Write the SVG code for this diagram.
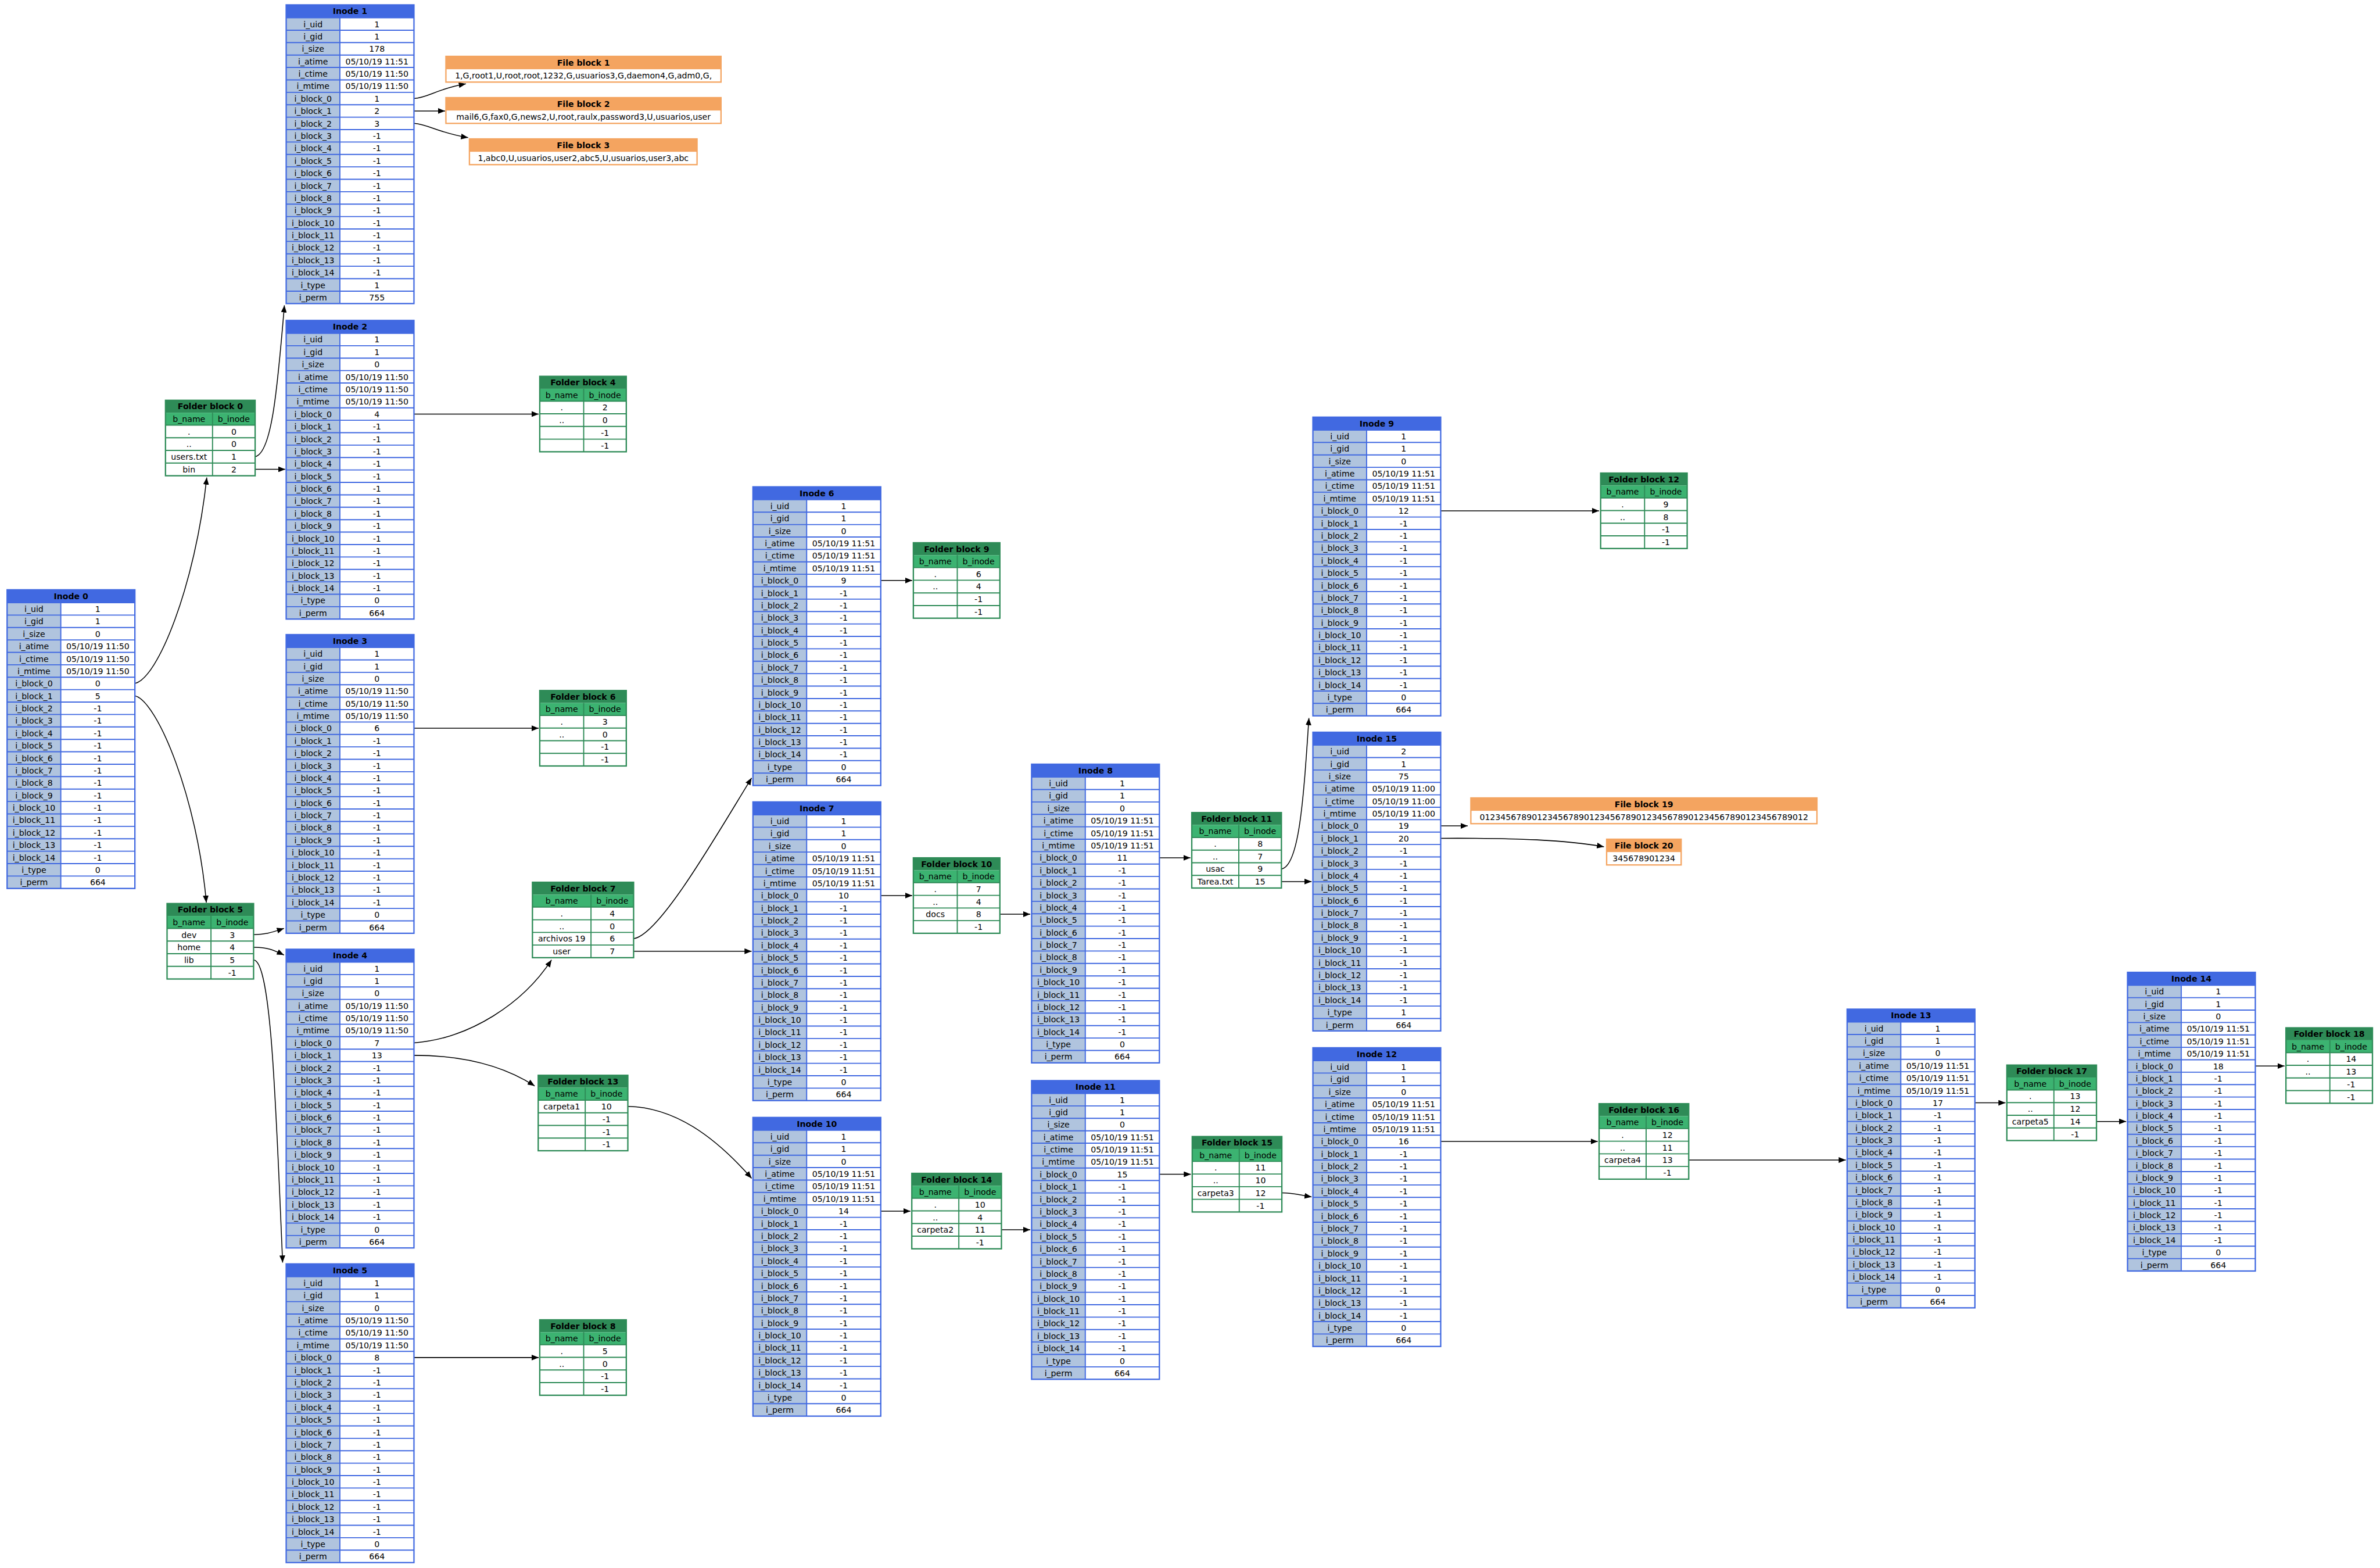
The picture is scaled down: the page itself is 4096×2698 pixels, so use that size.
<svg xmlns="http://www.w3.org/2000/svg" width="4096" height="2698" viewBox="0 0 4096 2698">
<style>
.t{font-family:"DejaVu Sans",sans-serif;font-size:18.5px;text-anchor:middle;fill:#000}
.h{font-family:"DejaVu Sans",sans-serif;font-size:18.5px;font-weight:bold;text-anchor:middle;fill:#000}
.e{fill:none;stroke:#000;stroke-width:2;marker-end:url(#ah)}
.ig{stroke:#4169E1;stroke-width:2.5;fill:none}
.io{stroke:#4169E1;stroke-width:3;fill:none}
.fg{stroke:#2E8B57;stroke-width:2.5;fill:none}
.fo{stroke:#2E8B57;stroke-width:3;fill:none}
.bo{stroke:#F4A460;stroke-width:3;fill:none}
</style>
<defs>
<marker id="ah" markerUnits="userSpaceOnUse" markerWidth="16" markerHeight="13" refX="16" refY="6.5" orient="auto"><path d="M0,0L16,6.5L0,13z" fill="#000"/></marker>
<g id="ifr">
<rect width="288" height="673" fill="#fff"/>
<rect y="29" width="121" height="644" fill="#B0C4DE"/>
<rect width="288" height="29" fill="#4169E1"/>
<path class="ig" d="M0,29H288M0,57H288M0,85H288M0,113H288M0,141H288M0,169H288M0,197H288M0,225H288M0,253H288M0,281H288M0,309H288M0,337H288M0,365H288M0,393H288M0,421H288M0,449H288M0,477H288M0,505H288M0,533H288M0,561H288M0,589H288M0,617H288M0,645H288M121,29V673"/>
<rect class="io" width="288" height="673"/>
</g>
<g id="fA">
<rect width="195" height="170" fill="#fff"/>
<rect width="195" height="28" fill="#2E8B57"/>
<rect y="28" width="195" height="28" fill="#3CB371"/>
<path class="fg" d="M0,56H195M0,84.5H195M0,113H195M0,141.5H195M99,28V170"/>
<rect class="fo" width="195" height="170"/>
</g>
<g id="fB">
<rect width="202" height="170" fill="#fff"/>
<rect width="202" height="28" fill="#2E8B57"/>
<rect y="28" width="202" height="28" fill="#3CB371"/>
<path class="fg" d="M0,56H202M0,84.5H202M0,113H202M0,141.5H202M106,28V170"/>
<rect class="fo" width="202" height="170"/>
</g>
<g id="fC">
<rect width="228" height="170" fill="#fff"/>
<rect width="228" height="28" fill="#2E8B57"/>
<rect y="28" width="228" height="28" fill="#3CB371"/>
<path class="fg" d="M0,56H228M0,84.5H228M0,113H228M0,141.5H228M132,28V170"/>
<rect class="fo" width="228" height="170"/>
</g>
</defs>
<rect width="4096" height="2698" fill="#fff"/>
<g transform="scale(0.76361)">

<g id="connectors">
<path class="e" d="M304,1540 C355,1530 440,1320 466,1076"/>
<path class="e" d="M304,1568 C355,1580 445,1800 465,2034"/>
<path class="e" d="M575,1029 C612,1022 625,880 641,688"/>
<path class="e" d="M575,1057.5 L643,1057.5"/>
<path class="e" d="M933,222 C965,220 985,200 1050,189"/>
<path class="e" d="M933,250 L1003,250"/>
<path class="e" d="M933,278 C965,280 990,300 1055,310"/>
<path class="e" d="M933,933 L1214,933"/>
<path class="e" d="M933,1641 L1214,1641"/>
<path class="e" d="M571.5,2106 C600,2106 615,2100 640,2092"/>
<path class="e" d="M571.5,2134.5 C600,2134 615,2140 640,2152"/>
<path class="e" d="M571.5,2163 C612,2165 622,2500 637,2845"/>
<path class="e" d="M933,2350 C1060,2340 1180,2260 1243,2163"/>
<path class="e" d="M933,2378 C1050,2378 1140,2405 1205,2447"/>
<path class="e" d="M933,3059 L1214,3059"/>
<path class="e" d="M1428,2115 C1485,2108 1610,1890 1694,1753"/>
<path class="e" d="M1428,2143.5 L1694,2143.5"/>
<path class="e" d="M1415,2493 C1520,2495 1610,2560 1694,2655"/>
<path class="e" d="M1985,1308 L2056,1308"/>
<path class="e" d="M1985,2018 L2056,2018"/>
<path class="e" d="M1985,2729 L2052,2729"/>
<path class="e" d="M2253.5,2060 L2322,2060"/>
<path class="e" d="M2257,2771 L2322,2771"/>
<path class="e" d="M2613,1933 L2683,1933"/>
<path class="e" d="M2613,2646 L2684,2646"/>
<path class="e" d="M2888,1958 C2928,1952 2938,1800 2950,1618"/>
<path class="e" d="M2888,1986.5 L2956,1986.5"/>
<path class="e" d="M2889,2688 C2915,2688 2930,2693 2956,2697"/>
<path class="e" d="M3247,1151 L3604,1151"/>
<path class="e" d="M3247,1861 L3308,1861"/>
<path class="e" d="M3247,1889 C3420,1888 3530,1893 3615,1908"/>
<path class="e" d="M3247,2572 L3601,2572"/>
<path class="e" d="M3806,2614 L4160,2614"/>
<path class="e" d="M4451,2485 L4520,2485"/>
<path class="e" d="M4725,2527 L4792,2527"/>
<path class="e" d="M5083,2402 L5149,2402"/>
</g>

<g id="inode0" transform="translate(16,1329)"><use href="#ifr"/><text class="h" x="144" y="21">Inode 0</text>
<text class="t"><tspan x="60.5" y="50">i_uid</tspan><tspan x="60.5" dy="28">i_gid</tspan><tspan x="60.5" dy="28">i_size</tspan><tspan x="60.5" dy="28">i_atime</tspan><tspan x="60.5" dy="28">i_ctime</tspan><tspan x="60.5" dy="28">i_mtime</tspan><tspan x="60.5" dy="28">i_block_0</tspan><tspan x="60.5" dy="28">i_block_1</tspan><tspan x="60.5" dy="28">i_block_2</tspan><tspan x="60.5" dy="28">i_block_3</tspan><tspan x="60.5" dy="28">i_block_4</tspan><tspan x="60.5" dy="28">i_block_5</tspan><tspan x="60.5" dy="28">i_block_6</tspan><tspan x="60.5" dy="28">i_block_7</tspan><tspan x="60.5" dy="28">i_block_8</tspan><tspan x="60.5" dy="28">i_block_9</tspan><tspan x="60.5" dy="28">i_block_10</tspan><tspan x="60.5" dy="28">i_block_11</tspan><tspan x="60.5" dy="28">i_block_12</tspan><tspan x="60.5" dy="28">i_block_13</tspan><tspan x="60.5" dy="28">i_block_14</tspan><tspan x="60.5" dy="28">i_type</tspan><tspan x="60.5" dy="28">i_perm</tspan></text>
<text class="t"><tspan x="204.5" y="50">1</tspan><tspan x="204.5" dy="28">1</tspan><tspan x="204.5" dy="28">0</tspan><tspan x="204.5" dy="28">05/10/19 11:50</tspan><tspan x="204.5" dy="28">05/10/19 11:50</tspan><tspan x="204.5" dy="28">05/10/19 11:50</tspan><tspan x="204.5" dy="28">0</tspan><tspan x="204.5" dy="28">5</tspan><tspan x="204.5" dy="28">-1</tspan><tspan x="204.5" dy="28">-1</tspan><tspan x="204.5" dy="28">-1</tspan><tspan x="204.5" dy="28">-1</tspan><tspan x="204.5" dy="28">-1</tspan><tspan x="204.5" dy="28">-1</tspan><tspan x="204.5" dy="28">-1</tspan><tspan x="204.5" dy="28">-1</tspan><tspan x="204.5" dy="28">-1</tspan><tspan x="204.5" dy="28">-1</tspan><tspan x="204.5" dy="28">-1</tspan><tspan x="204.5" dy="28">-1</tspan><tspan x="204.5" dy="28">-1</tspan><tspan x="204.5" dy="28">0</tspan><tspan x="204.5" dy="28">664</tspan></text></g>

<g id="inode1" transform="translate(645,11)"><use href="#ifr"/><text class="h" x="144" y="21">Inode 1</text>
<text class="t"><tspan x="60.5" y="50">i_uid</tspan><tspan x="60.5" dy="28">i_gid</tspan><tspan x="60.5" dy="28">i_size</tspan><tspan x="60.5" dy="28">i_atime</tspan><tspan x="60.5" dy="28">i_ctime</tspan><tspan x="60.5" dy="28">i_mtime</tspan><tspan x="60.5" dy="28">i_block_0</tspan><tspan x="60.5" dy="28">i_block_1</tspan><tspan x="60.5" dy="28">i_block_2</tspan><tspan x="60.5" dy="28">i_block_3</tspan><tspan x="60.5" dy="28">i_block_4</tspan><tspan x="60.5" dy="28">i_block_5</tspan><tspan x="60.5" dy="28">i_block_6</tspan><tspan x="60.5" dy="28">i_block_7</tspan><tspan x="60.5" dy="28">i_block_8</tspan><tspan x="60.5" dy="28">i_block_9</tspan><tspan x="60.5" dy="28">i_block_10</tspan><tspan x="60.5" dy="28">i_block_11</tspan><tspan x="60.5" dy="28">i_block_12</tspan><tspan x="60.5" dy="28">i_block_13</tspan><tspan x="60.5" dy="28">i_block_14</tspan><tspan x="60.5" dy="28">i_type</tspan><tspan x="60.5" dy="28">i_perm</tspan></text>
<text class="t"><tspan x="204.5" y="50">1</tspan><tspan x="204.5" dy="28">1</tspan><tspan x="204.5" dy="28">178</tspan><tspan x="204.5" dy="28">05/10/19 11:51</tspan><tspan x="204.5" dy="28">05/10/19 11:50</tspan><tspan x="204.5" dy="28">05/10/19 11:50</tspan><tspan x="204.5" dy="28">1</tspan><tspan x="204.5" dy="28">2</tspan><tspan x="204.5" dy="28">3</tspan><tspan x="204.5" dy="28">-1</tspan><tspan x="204.5" dy="28">-1</tspan><tspan x="204.5" dy="28">-1</tspan><tspan x="204.5" dy="28">-1</tspan><tspan x="204.5" dy="28">-1</tspan><tspan x="204.5" dy="28">-1</tspan><tspan x="204.5" dy="28">-1</tspan><tspan x="204.5" dy="28">-1</tspan><tspan x="204.5" dy="28">-1</tspan><tspan x="204.5" dy="28">-1</tspan><tspan x="204.5" dy="28">-1</tspan><tspan x="204.5" dy="28">-1</tspan><tspan x="204.5" dy="28">1</tspan><tspan x="204.5" dy="28">755</tspan></text></g>

<g id="inode2" transform="translate(645,722)"><use href="#ifr"/><text class="h" x="144" y="21">Inode 2</text>
<text class="t"><tspan x="60.5" y="50">i_uid</tspan><tspan x="60.5" dy="28">i_gid</tspan><tspan x="60.5" dy="28">i_size</tspan><tspan x="60.5" dy="28">i_atime</tspan><tspan x="60.5" dy="28">i_ctime</tspan><tspan x="60.5" dy="28">i_mtime</tspan><tspan x="60.5" dy="28">i_block_0</tspan><tspan x="60.5" dy="28">i_block_1</tspan><tspan x="60.5" dy="28">i_block_2</tspan><tspan x="60.5" dy="28">i_block_3</tspan><tspan x="60.5" dy="28">i_block_4</tspan><tspan x="60.5" dy="28">i_block_5</tspan><tspan x="60.5" dy="28">i_block_6</tspan><tspan x="60.5" dy="28">i_block_7</tspan><tspan x="60.5" dy="28">i_block_8</tspan><tspan x="60.5" dy="28">i_block_9</tspan><tspan x="60.5" dy="28">i_block_10</tspan><tspan x="60.5" dy="28">i_block_11</tspan><tspan x="60.5" dy="28">i_block_12</tspan><tspan x="60.5" dy="28">i_block_13</tspan><tspan x="60.5" dy="28">i_block_14</tspan><tspan x="60.5" dy="28">i_type</tspan><tspan x="60.5" dy="28">i_perm</tspan></text>
<text class="t"><tspan x="204.5" y="50">1</tspan><tspan x="204.5" dy="28">1</tspan><tspan x="204.5" dy="28">0</tspan><tspan x="204.5" dy="28">05/10/19 11:50</tspan><tspan x="204.5" dy="28">05/10/19 11:50</tspan><tspan x="204.5" dy="28">05/10/19 11:50</tspan><tspan x="204.5" dy="28">4</tspan><tspan x="204.5" dy="28">-1</tspan><tspan x="204.5" dy="28">-1</tspan><tspan x="204.5" dy="28">-1</tspan><tspan x="204.5" dy="28">-1</tspan><tspan x="204.5" dy="28">-1</tspan><tspan x="204.5" dy="28">-1</tspan><tspan x="204.5" dy="28">-1</tspan><tspan x="204.5" dy="28">-1</tspan><tspan x="204.5" dy="28">-1</tspan><tspan x="204.5" dy="28">-1</tspan><tspan x="204.5" dy="28">-1</tspan><tspan x="204.5" dy="28">-1</tspan><tspan x="204.5" dy="28">-1</tspan><tspan x="204.5" dy="28">-1</tspan><tspan x="204.5" dy="28">0</tspan><tspan x="204.5" dy="28">664</tspan></text></g>

<g id="inode3" transform="translate(645,1430)"><use href="#ifr"/><text class="h" x="144" y="21">Inode 3</text>
<text class="t"><tspan x="60.5" y="50">i_uid</tspan><tspan x="60.5" dy="28">i_gid</tspan><tspan x="60.5" dy="28">i_size</tspan><tspan x="60.5" dy="28">i_atime</tspan><tspan x="60.5" dy="28">i_ctime</tspan><tspan x="60.5" dy="28">i_mtime</tspan><tspan x="60.5" dy="28">i_block_0</tspan><tspan x="60.5" dy="28">i_block_1</tspan><tspan x="60.5" dy="28">i_block_2</tspan><tspan x="60.5" dy="28">i_block_3</tspan><tspan x="60.5" dy="28">i_block_4</tspan><tspan x="60.5" dy="28">i_block_5</tspan><tspan x="60.5" dy="28">i_block_6</tspan><tspan x="60.5" dy="28">i_block_7</tspan><tspan x="60.5" dy="28">i_block_8</tspan><tspan x="60.5" dy="28">i_block_9</tspan><tspan x="60.5" dy="28">i_block_10</tspan><tspan x="60.5" dy="28">i_block_11</tspan><tspan x="60.5" dy="28">i_block_12</tspan><tspan x="60.5" dy="28">i_block_13</tspan><tspan x="60.5" dy="28">i_block_14</tspan><tspan x="60.5" dy="28">i_type</tspan><tspan x="60.5" dy="28">i_perm</tspan></text>
<text class="t"><tspan x="204.5" y="50">1</tspan><tspan x="204.5" dy="28">1</tspan><tspan x="204.5" dy="28">0</tspan><tspan x="204.5" dy="28">05/10/19 11:50</tspan><tspan x="204.5" dy="28">05/10/19 11:50</tspan><tspan x="204.5" dy="28">05/10/19 11:50</tspan><tspan x="204.5" dy="28">6</tspan><tspan x="204.5" dy="28">-1</tspan><tspan x="204.5" dy="28">-1</tspan><tspan x="204.5" dy="28">-1</tspan><tspan x="204.5" dy="28">-1</tspan><tspan x="204.5" dy="28">-1</tspan><tspan x="204.5" dy="28">-1</tspan><tspan x="204.5" dy="28">-1</tspan><tspan x="204.5" dy="28">-1</tspan><tspan x="204.5" dy="28">-1</tspan><tspan x="204.5" dy="28">-1</tspan><tspan x="204.5" dy="28">-1</tspan><tspan x="204.5" dy="28">-1</tspan><tspan x="204.5" dy="28">-1</tspan><tspan x="204.5" dy="28">-1</tspan><tspan x="204.5" dy="28">0</tspan><tspan x="204.5" dy="28">664</tspan></text></g>

<g id="inode4" transform="translate(645,2139)"><use href="#ifr"/><text class="h" x="144" y="21">Inode 4</text>
<text class="t"><tspan x="60.5" y="50">i_uid</tspan><tspan x="60.5" dy="28">i_gid</tspan><tspan x="60.5" dy="28">i_size</tspan><tspan x="60.5" dy="28">i_atime</tspan><tspan x="60.5" dy="28">i_ctime</tspan><tspan x="60.5" dy="28">i_mtime</tspan><tspan x="60.5" dy="28">i_block_0</tspan><tspan x="60.5" dy="28">i_block_1</tspan><tspan x="60.5" dy="28">i_block_2</tspan><tspan x="60.5" dy="28">i_block_3</tspan><tspan x="60.5" dy="28">i_block_4</tspan><tspan x="60.5" dy="28">i_block_5</tspan><tspan x="60.5" dy="28">i_block_6</tspan><tspan x="60.5" dy="28">i_block_7</tspan><tspan x="60.5" dy="28">i_block_8</tspan><tspan x="60.5" dy="28">i_block_9</tspan><tspan x="60.5" dy="28">i_block_10</tspan><tspan x="60.5" dy="28">i_block_11</tspan><tspan x="60.5" dy="28">i_block_12</tspan><tspan x="60.5" dy="28">i_block_13</tspan><tspan x="60.5" dy="28">i_block_14</tspan><tspan x="60.5" dy="28">i_type</tspan><tspan x="60.5" dy="28">i_perm</tspan></text>
<text class="t"><tspan x="204.5" y="50">1</tspan><tspan x="204.5" dy="28">1</tspan><tspan x="204.5" dy="28">0</tspan><tspan x="204.5" dy="28">05/10/19 11:50</tspan><tspan x="204.5" dy="28">05/10/19 11:50</tspan><tspan x="204.5" dy="28">05/10/19 11:50</tspan><tspan x="204.5" dy="28">7</tspan><tspan x="204.5" dy="28">13</tspan><tspan x="204.5" dy="28">-1</tspan><tspan x="204.5" dy="28">-1</tspan><tspan x="204.5" dy="28">-1</tspan><tspan x="204.5" dy="28">-1</tspan><tspan x="204.5" dy="28">-1</tspan><tspan x="204.5" dy="28">-1</tspan><tspan x="204.5" dy="28">-1</tspan><tspan x="204.5" dy="28">-1</tspan><tspan x="204.5" dy="28">-1</tspan><tspan x="204.5" dy="28">-1</tspan><tspan x="204.5" dy="28">-1</tspan><tspan x="204.5" dy="28">-1</tspan><tspan x="204.5" dy="28">-1</tspan><tspan x="204.5" dy="28">0</tspan><tspan x="204.5" dy="28">664</tspan></text></g>

<g id="inode5" transform="translate(645,2848)"><use href="#ifr"/><text class="h" x="144" y="21">Inode 5</text>
<text class="t"><tspan x="60.5" y="50">i_uid</tspan><tspan x="60.5" dy="28">i_gid</tspan><tspan x="60.5" dy="28">i_size</tspan><tspan x="60.5" dy="28">i_atime</tspan><tspan x="60.5" dy="28">i_ctime</tspan><tspan x="60.5" dy="28">i_mtime</tspan><tspan x="60.5" dy="28">i_block_0</tspan><tspan x="60.5" dy="28">i_block_1</tspan><tspan x="60.5" dy="28">i_block_2</tspan><tspan x="60.5" dy="28">i_block_3</tspan><tspan x="60.5" dy="28">i_block_4</tspan><tspan x="60.5" dy="28">i_block_5</tspan><tspan x="60.5" dy="28">i_block_6</tspan><tspan x="60.5" dy="28">i_block_7</tspan><tspan x="60.5" dy="28">i_block_8</tspan><tspan x="60.5" dy="28">i_block_9</tspan><tspan x="60.5" dy="28">i_block_10</tspan><tspan x="60.5" dy="28">i_block_11</tspan><tspan x="60.5" dy="28">i_block_12</tspan><tspan x="60.5" dy="28">i_block_13</tspan><tspan x="60.5" dy="28">i_block_14</tspan><tspan x="60.5" dy="28">i_type</tspan><tspan x="60.5" dy="28">i_perm</tspan></text>
<text class="t"><tspan x="204.5" y="50">1</tspan><tspan x="204.5" dy="28">1</tspan><tspan x="204.5" dy="28">0</tspan><tspan x="204.5" dy="28">05/10/19 11:50</tspan><tspan x="204.5" dy="28">05/10/19 11:50</tspan><tspan x="204.5" dy="28">05/10/19 11:50</tspan><tspan x="204.5" dy="28">8</tspan><tspan x="204.5" dy="28">-1</tspan><tspan x="204.5" dy="28">-1</tspan><tspan x="204.5" dy="28">-1</tspan><tspan x="204.5" dy="28">-1</tspan><tspan x="204.5" dy="28">-1</tspan><tspan x="204.5" dy="28">-1</tspan><tspan x="204.5" dy="28">-1</tspan><tspan x="204.5" dy="28">-1</tspan><tspan x="204.5" dy="28">-1</tspan><tspan x="204.5" dy="28">-1</tspan><tspan x="204.5" dy="28">-1</tspan><tspan x="204.5" dy="28">-1</tspan><tspan x="204.5" dy="28">-1</tspan><tspan x="204.5" dy="28">-1</tspan><tspan x="204.5" dy="28">0</tspan><tspan x="204.5" dy="28">664</tspan></text></g>

<g id="inode6" transform="translate(1697,1097)"><use href="#ifr"/><text class="h" x="144" y="21">Inode 6</text>
<text class="t"><tspan x="60.5" y="50">i_uid</tspan><tspan x="60.5" dy="28">i_gid</tspan><tspan x="60.5" dy="28">i_size</tspan><tspan x="60.5" dy="28">i_atime</tspan><tspan x="60.5" dy="28">i_ctime</tspan><tspan x="60.5" dy="28">i_mtime</tspan><tspan x="60.5" dy="28">i_block_0</tspan><tspan x="60.5" dy="28">i_block_1</tspan><tspan x="60.5" dy="28">i_block_2</tspan><tspan x="60.5" dy="28">i_block_3</tspan><tspan x="60.5" dy="28">i_block_4</tspan><tspan x="60.5" dy="28">i_block_5</tspan><tspan x="60.5" dy="28">i_block_6</tspan><tspan x="60.5" dy="28">i_block_7</tspan><tspan x="60.5" dy="28">i_block_8</tspan><tspan x="60.5" dy="28">i_block_9</tspan><tspan x="60.5" dy="28">i_block_10</tspan><tspan x="60.5" dy="28">i_block_11</tspan><tspan x="60.5" dy="28">i_block_12</tspan><tspan x="60.5" dy="28">i_block_13</tspan><tspan x="60.5" dy="28">i_block_14</tspan><tspan x="60.5" dy="28">i_type</tspan><tspan x="60.5" dy="28">i_perm</tspan></text>
<text class="t"><tspan x="204.5" y="50">1</tspan><tspan x="204.5" dy="28">1</tspan><tspan x="204.5" dy="28">0</tspan><tspan x="204.5" dy="28">05/10/19 11:51</tspan><tspan x="204.5" dy="28">05/10/19 11:51</tspan><tspan x="204.5" dy="28">05/10/19 11:51</tspan><tspan x="204.5" dy="28">9</tspan><tspan x="204.5" dy="28">-1</tspan><tspan x="204.5" dy="28">-1</tspan><tspan x="204.5" dy="28">-1</tspan><tspan x="204.5" dy="28">-1</tspan><tspan x="204.5" dy="28">-1</tspan><tspan x="204.5" dy="28">-1</tspan><tspan x="204.5" dy="28">-1</tspan><tspan x="204.5" dy="28">-1</tspan><tspan x="204.5" dy="28">-1</tspan><tspan x="204.5" dy="28">-1</tspan><tspan x="204.5" dy="28">-1</tspan><tspan x="204.5" dy="28">-1</tspan><tspan x="204.5" dy="28">-1</tspan><tspan x="204.5" dy="28">-1</tspan><tspan x="204.5" dy="28">0</tspan><tspan x="204.5" dy="28">664</tspan></text></g>

<g id="inode7" transform="translate(1697,1807)"><use href="#ifr"/><text class="h" x="144" y="21">Inode 7</text>
<text class="t"><tspan x="60.5" y="50">i_uid</tspan><tspan x="60.5" dy="28">i_gid</tspan><tspan x="60.5" dy="28">i_size</tspan><tspan x="60.5" dy="28">i_atime</tspan><tspan x="60.5" dy="28">i_ctime</tspan><tspan x="60.5" dy="28">i_mtime</tspan><tspan x="60.5" dy="28">i_block_0</tspan><tspan x="60.5" dy="28">i_block_1</tspan><tspan x="60.5" dy="28">i_block_2</tspan><tspan x="60.5" dy="28">i_block_3</tspan><tspan x="60.5" dy="28">i_block_4</tspan><tspan x="60.5" dy="28">i_block_5</tspan><tspan x="60.5" dy="28">i_block_6</tspan><tspan x="60.5" dy="28">i_block_7</tspan><tspan x="60.5" dy="28">i_block_8</tspan><tspan x="60.5" dy="28">i_block_9</tspan><tspan x="60.5" dy="28">i_block_10</tspan><tspan x="60.5" dy="28">i_block_11</tspan><tspan x="60.5" dy="28">i_block_12</tspan><tspan x="60.5" dy="28">i_block_13</tspan><tspan x="60.5" dy="28">i_block_14</tspan><tspan x="60.5" dy="28">i_type</tspan><tspan x="60.5" dy="28">i_perm</tspan></text>
<text class="t"><tspan x="204.5" y="50">1</tspan><tspan x="204.5" dy="28">1</tspan><tspan x="204.5" dy="28">0</tspan><tspan x="204.5" dy="28">05/10/19 11:51</tspan><tspan x="204.5" dy="28">05/10/19 11:51</tspan><tspan x="204.5" dy="28">05/10/19 11:51</tspan><tspan x="204.5" dy="28">10</tspan><tspan x="204.5" dy="28">-1</tspan><tspan x="204.5" dy="28">-1</tspan><tspan x="204.5" dy="28">-1</tspan><tspan x="204.5" dy="28">-1</tspan><tspan x="204.5" dy="28">-1</tspan><tspan x="204.5" dy="28">-1</tspan><tspan x="204.5" dy="28">-1</tspan><tspan x="204.5" dy="28">-1</tspan><tspan x="204.5" dy="28">-1</tspan><tspan x="204.5" dy="28">-1</tspan><tspan x="204.5" dy="28">-1</tspan><tspan x="204.5" dy="28">-1</tspan><tspan x="204.5" dy="28">-1</tspan><tspan x="204.5" dy="28">-1</tspan><tspan x="204.5" dy="28">0</tspan><tspan x="204.5" dy="28">664</tspan></text></g>

<g id="inode8" transform="translate(2325,1722)"><use href="#ifr"/><text class="h" x="144" y="21">Inode 8</text>
<text class="t"><tspan x="60.5" y="50">i_uid</tspan><tspan x="60.5" dy="28">i_gid</tspan><tspan x="60.5" dy="28">i_size</tspan><tspan x="60.5" dy="28">i_atime</tspan><tspan x="60.5" dy="28">i_ctime</tspan><tspan x="60.5" dy="28">i_mtime</tspan><tspan x="60.5" dy="28">i_block_0</tspan><tspan x="60.5" dy="28">i_block_1</tspan><tspan x="60.5" dy="28">i_block_2</tspan><tspan x="60.5" dy="28">i_block_3</tspan><tspan x="60.5" dy="28">i_block_4</tspan><tspan x="60.5" dy="28">i_block_5</tspan><tspan x="60.5" dy="28">i_block_6</tspan><tspan x="60.5" dy="28">i_block_7</tspan><tspan x="60.5" dy="28">i_block_8</tspan><tspan x="60.5" dy="28">i_block_9</tspan><tspan x="60.5" dy="28">i_block_10</tspan><tspan x="60.5" dy="28">i_block_11</tspan><tspan x="60.5" dy="28">i_block_12</tspan><tspan x="60.5" dy="28">i_block_13</tspan><tspan x="60.5" dy="28">i_block_14</tspan><tspan x="60.5" dy="28">i_type</tspan><tspan x="60.5" dy="28">i_perm</tspan></text>
<text class="t"><tspan x="204.5" y="50">1</tspan><tspan x="204.5" dy="28">1</tspan><tspan x="204.5" dy="28">0</tspan><tspan x="204.5" dy="28">05/10/19 11:51</tspan><tspan x="204.5" dy="28">05/10/19 11:51</tspan><tspan x="204.5" dy="28">05/10/19 11:51</tspan><tspan x="204.5" dy="28">11</tspan><tspan x="204.5" dy="28">-1</tspan><tspan x="204.5" dy="28">-1</tspan><tspan x="204.5" dy="28">-1</tspan><tspan x="204.5" dy="28">-1</tspan><tspan x="204.5" dy="28">-1</tspan><tspan x="204.5" dy="28">-1</tspan><tspan x="204.5" dy="28">-1</tspan><tspan x="204.5" dy="28">-1</tspan><tspan x="204.5" dy="28">-1</tspan><tspan x="204.5" dy="28">-1</tspan><tspan x="204.5" dy="28">-1</tspan><tspan x="204.5" dy="28">-1</tspan><tspan x="204.5" dy="28">-1</tspan><tspan x="204.5" dy="28">-1</tspan><tspan x="204.5" dy="28">0</tspan><tspan x="204.5" dy="28">664</tspan></text></g>

<g id="inode9" transform="translate(2959,940)"><use href="#ifr"/><text class="h" x="144" y="21">Inode 9</text>
<text class="t"><tspan x="60.5" y="50">i_uid</tspan><tspan x="60.5" dy="28">i_gid</tspan><tspan x="60.5" dy="28">i_size</tspan><tspan x="60.5" dy="28">i_atime</tspan><tspan x="60.5" dy="28">i_ctime</tspan><tspan x="60.5" dy="28">i_mtime</tspan><tspan x="60.5" dy="28">i_block_0</tspan><tspan x="60.5" dy="28">i_block_1</tspan><tspan x="60.5" dy="28">i_block_2</tspan><tspan x="60.5" dy="28">i_block_3</tspan><tspan x="60.5" dy="28">i_block_4</tspan><tspan x="60.5" dy="28">i_block_5</tspan><tspan x="60.5" dy="28">i_block_6</tspan><tspan x="60.5" dy="28">i_block_7</tspan><tspan x="60.5" dy="28">i_block_8</tspan><tspan x="60.5" dy="28">i_block_9</tspan><tspan x="60.5" dy="28">i_block_10</tspan><tspan x="60.5" dy="28">i_block_11</tspan><tspan x="60.5" dy="28">i_block_12</tspan><tspan x="60.5" dy="28">i_block_13</tspan><tspan x="60.5" dy="28">i_block_14</tspan><tspan x="60.5" dy="28">i_type</tspan><tspan x="60.5" dy="28">i_perm</tspan></text>
<text class="t"><tspan x="204.5" y="50">1</tspan><tspan x="204.5" dy="28">1</tspan><tspan x="204.5" dy="28">0</tspan><tspan x="204.5" dy="28">05/10/19 11:51</tspan><tspan x="204.5" dy="28">05/10/19 11:51</tspan><tspan x="204.5" dy="28">05/10/19 11:51</tspan><tspan x="204.5" dy="28">12</tspan><tspan x="204.5" dy="28">-1</tspan><tspan x="204.5" dy="28">-1</tspan><tspan x="204.5" dy="28">-1</tspan><tspan x="204.5" dy="28">-1</tspan><tspan x="204.5" dy="28">-1</tspan><tspan x="204.5" dy="28">-1</tspan><tspan x="204.5" dy="28">-1</tspan><tspan x="204.5" dy="28">-1</tspan><tspan x="204.5" dy="28">-1</tspan><tspan x="204.5" dy="28">-1</tspan><tspan x="204.5" dy="28">-1</tspan><tspan x="204.5" dy="28">-1</tspan><tspan x="204.5" dy="28">-1</tspan><tspan x="204.5" dy="28">-1</tspan><tspan x="204.5" dy="28">0</tspan><tspan x="204.5" dy="28">664</tspan></text></g>

<g id="inode10" transform="translate(1697,2518)"><use href="#ifr"/><text class="h" x="144" y="21">Inode 10</text>
<text class="t"><tspan x="60.5" y="50">i_uid</tspan><tspan x="60.5" dy="28">i_gid</tspan><tspan x="60.5" dy="28">i_size</tspan><tspan x="60.5" dy="28">i_atime</tspan><tspan x="60.5" dy="28">i_ctime</tspan><tspan x="60.5" dy="28">i_mtime</tspan><tspan x="60.5" dy="28">i_block_0</tspan><tspan x="60.5" dy="28">i_block_1</tspan><tspan x="60.5" dy="28">i_block_2</tspan><tspan x="60.5" dy="28">i_block_3</tspan><tspan x="60.5" dy="28">i_block_4</tspan><tspan x="60.5" dy="28">i_block_5</tspan><tspan x="60.5" dy="28">i_block_6</tspan><tspan x="60.5" dy="28">i_block_7</tspan><tspan x="60.5" dy="28">i_block_8</tspan><tspan x="60.5" dy="28">i_block_9</tspan><tspan x="60.5" dy="28">i_block_10</tspan><tspan x="60.5" dy="28">i_block_11</tspan><tspan x="60.5" dy="28">i_block_12</tspan><tspan x="60.5" dy="28">i_block_13</tspan><tspan x="60.5" dy="28">i_block_14</tspan><tspan x="60.5" dy="28">i_type</tspan><tspan x="60.5" dy="28">i_perm</tspan></text>
<text class="t"><tspan x="204.5" y="50">1</tspan><tspan x="204.5" dy="28">1</tspan><tspan x="204.5" dy="28">0</tspan><tspan x="204.5" dy="28">05/10/19 11:51</tspan><tspan x="204.5" dy="28">05/10/19 11:51</tspan><tspan x="204.5" dy="28">05/10/19 11:51</tspan><tspan x="204.5" dy="28">14</tspan><tspan x="204.5" dy="28">-1</tspan><tspan x="204.5" dy="28">-1</tspan><tspan x="204.5" dy="28">-1</tspan><tspan x="204.5" dy="28">-1</tspan><tspan x="204.5" dy="28">-1</tspan><tspan x="204.5" dy="28">-1</tspan><tspan x="204.5" dy="28">-1</tspan><tspan x="204.5" dy="28">-1</tspan><tspan x="204.5" dy="28">-1</tspan><tspan x="204.5" dy="28">-1</tspan><tspan x="204.5" dy="28">-1</tspan><tspan x="204.5" dy="28">-1</tspan><tspan x="204.5" dy="28">-1</tspan><tspan x="204.5" dy="28">-1</tspan><tspan x="204.5" dy="28">0</tspan><tspan x="204.5" dy="28">664</tspan></text></g>

<g id="inode11" transform="translate(2325,2435)"><use href="#ifr"/><text class="h" x="144" y="21">Inode 11</text>
<text class="t"><tspan x="60.5" y="50">i_uid</tspan><tspan x="60.5" dy="28">i_gid</tspan><tspan x="60.5" dy="28">i_size</tspan><tspan x="60.5" dy="28">i_atime</tspan><tspan x="60.5" dy="28">i_ctime</tspan><tspan x="60.5" dy="28">i_mtime</tspan><tspan x="60.5" dy="28">i_block_0</tspan><tspan x="60.5" dy="28">i_block_1</tspan><tspan x="60.5" dy="28">i_block_2</tspan><tspan x="60.5" dy="28">i_block_3</tspan><tspan x="60.5" dy="28">i_block_4</tspan><tspan x="60.5" dy="28">i_block_5</tspan><tspan x="60.5" dy="28">i_block_6</tspan><tspan x="60.5" dy="28">i_block_7</tspan><tspan x="60.5" dy="28">i_block_8</tspan><tspan x="60.5" dy="28">i_block_9</tspan><tspan x="60.5" dy="28">i_block_10</tspan><tspan x="60.5" dy="28">i_block_11</tspan><tspan x="60.5" dy="28">i_block_12</tspan><tspan x="60.5" dy="28">i_block_13</tspan><tspan x="60.5" dy="28">i_block_14</tspan><tspan x="60.5" dy="28">i_type</tspan><tspan x="60.5" dy="28">i_perm</tspan></text>
<text class="t"><tspan x="204.5" y="50">1</tspan><tspan x="204.5" dy="28">1</tspan><tspan x="204.5" dy="28">0</tspan><tspan x="204.5" dy="28">05/10/19 11:51</tspan><tspan x="204.5" dy="28">05/10/19 11:51</tspan><tspan x="204.5" dy="28">05/10/19 11:51</tspan><tspan x="204.5" dy="28">15</tspan><tspan x="204.5" dy="28">-1</tspan><tspan x="204.5" dy="28">-1</tspan><tspan x="204.5" dy="28">-1</tspan><tspan x="204.5" dy="28">-1</tspan><tspan x="204.5" dy="28">-1</tspan><tspan x="204.5" dy="28">-1</tspan><tspan x="204.5" dy="28">-1</tspan><tspan x="204.5" dy="28">-1</tspan><tspan x="204.5" dy="28">-1</tspan><tspan x="204.5" dy="28">-1</tspan><tspan x="204.5" dy="28">-1</tspan><tspan x="204.5" dy="28">-1</tspan><tspan x="204.5" dy="28">-1</tspan><tspan x="204.5" dy="28">-1</tspan><tspan x="204.5" dy="28">0</tspan><tspan x="204.5" dy="28">664</tspan></text></g>

<g id="inode12" transform="translate(2959,2361)"><use href="#ifr"/><text class="h" x="144" y="21">Inode 12</text>
<text class="t"><tspan x="60.5" y="50">i_uid</tspan><tspan x="60.5" dy="28">i_gid</tspan><tspan x="60.5" dy="28">i_size</tspan><tspan x="60.5" dy="28">i_atime</tspan><tspan x="60.5" dy="28">i_ctime</tspan><tspan x="60.5" dy="28">i_mtime</tspan><tspan x="60.5" dy="28">i_block_0</tspan><tspan x="60.5" dy="28">i_block_1</tspan><tspan x="60.5" dy="28">i_block_2</tspan><tspan x="60.5" dy="28">i_block_3</tspan><tspan x="60.5" dy="28">i_block_4</tspan><tspan x="60.5" dy="28">i_block_5</tspan><tspan x="60.5" dy="28">i_block_6</tspan><tspan x="60.5" dy="28">i_block_7</tspan><tspan x="60.5" dy="28">i_block_8</tspan><tspan x="60.5" dy="28">i_block_9</tspan><tspan x="60.5" dy="28">i_block_10</tspan><tspan x="60.5" dy="28">i_block_11</tspan><tspan x="60.5" dy="28">i_block_12</tspan><tspan x="60.5" dy="28">i_block_13</tspan><tspan x="60.5" dy="28">i_block_14</tspan><tspan x="60.5" dy="28">i_type</tspan><tspan x="60.5" dy="28">i_perm</tspan></text>
<text class="t"><tspan x="204.5" y="50">1</tspan><tspan x="204.5" dy="28">1</tspan><tspan x="204.5" dy="28">0</tspan><tspan x="204.5" dy="28">05/10/19 11:51</tspan><tspan x="204.5" dy="28">05/10/19 11:51</tspan><tspan x="204.5" dy="28">05/10/19 11:51</tspan><tspan x="204.5" dy="28">16</tspan><tspan x="204.5" dy="28">-1</tspan><tspan x="204.5" dy="28">-1</tspan><tspan x="204.5" dy="28">-1</tspan><tspan x="204.5" dy="28">-1</tspan><tspan x="204.5" dy="28">-1</tspan><tspan x="204.5" dy="28">-1</tspan><tspan x="204.5" dy="28">-1</tspan><tspan x="204.5" dy="28">-1</tspan><tspan x="204.5" dy="28">-1</tspan><tspan x="204.5" dy="28">-1</tspan><tspan x="204.5" dy="28">-1</tspan><tspan x="204.5" dy="28">-1</tspan><tspan x="204.5" dy="28">-1</tspan><tspan x="204.5" dy="28">-1</tspan><tspan x="204.5" dy="28">0</tspan><tspan x="204.5" dy="28">664</tspan></text></g>

<g id="inode13" transform="translate(4163,2274)"><use href="#ifr"/><text class="h" x="144" y="21">Inode 13</text>
<text class="t"><tspan x="60.5" y="50">i_uid</tspan><tspan x="60.5" dy="28">i_gid</tspan><tspan x="60.5" dy="28">i_size</tspan><tspan x="60.5" dy="28">i_atime</tspan><tspan x="60.5" dy="28">i_ctime</tspan><tspan x="60.5" dy="28">i_mtime</tspan><tspan x="60.5" dy="28">i_block_0</tspan><tspan x="60.5" dy="28">i_block_1</tspan><tspan x="60.5" dy="28">i_block_2</tspan><tspan x="60.5" dy="28">i_block_3</tspan><tspan x="60.5" dy="28">i_block_4</tspan><tspan x="60.5" dy="28">i_block_5</tspan><tspan x="60.5" dy="28">i_block_6</tspan><tspan x="60.5" dy="28">i_block_7</tspan><tspan x="60.5" dy="28">i_block_8</tspan><tspan x="60.5" dy="28">i_block_9</tspan><tspan x="60.5" dy="28">i_block_10</tspan><tspan x="60.5" dy="28">i_block_11</tspan><tspan x="60.5" dy="28">i_block_12</tspan><tspan x="60.5" dy="28">i_block_13</tspan><tspan x="60.5" dy="28">i_block_14</tspan><tspan x="60.5" dy="28">i_type</tspan><tspan x="60.5" dy="28">i_perm</tspan></text>
<text class="t"><tspan x="204.5" y="50">1</tspan><tspan x="204.5" dy="28">1</tspan><tspan x="204.5" dy="28">0</tspan><tspan x="204.5" dy="28">05/10/19 11:51</tspan><tspan x="204.5" dy="28">05/10/19 11:51</tspan><tspan x="204.5" dy="28">05/10/19 11:51</tspan><tspan x="204.5" dy="28">17</tspan><tspan x="204.5" dy="28">-1</tspan><tspan x="204.5" dy="28">-1</tspan><tspan x="204.5" dy="28">-1</tspan><tspan x="204.5" dy="28">-1</tspan><tspan x="204.5" dy="28">-1</tspan><tspan x="204.5" dy="28">-1</tspan><tspan x="204.5" dy="28">-1</tspan><tspan x="204.5" dy="28">-1</tspan><tspan x="204.5" dy="28">-1</tspan><tspan x="204.5" dy="28">-1</tspan><tspan x="204.5" dy="28">-1</tspan><tspan x="204.5" dy="28">-1</tspan><tspan x="204.5" dy="28">-1</tspan><tspan x="204.5" dy="28">-1</tspan><tspan x="204.5" dy="28">0</tspan><tspan x="204.5" dy="28">664</tspan></text></g>

<g id="inode14" transform="translate(4795,2191)"><use href="#ifr"/><text class="h" x="144" y="21">Inode 14</text>
<text class="t"><tspan x="60.5" y="50">i_uid</tspan><tspan x="60.5" dy="28">i_gid</tspan><tspan x="60.5" dy="28">i_size</tspan><tspan x="60.5" dy="28">i_atime</tspan><tspan x="60.5" dy="28">i_ctime</tspan><tspan x="60.5" dy="28">i_mtime</tspan><tspan x="60.5" dy="28">i_block_0</tspan><tspan x="60.5" dy="28">i_block_1</tspan><tspan x="60.5" dy="28">i_block_2</tspan><tspan x="60.5" dy="28">i_block_3</tspan><tspan x="60.5" dy="28">i_block_4</tspan><tspan x="60.5" dy="28">i_block_5</tspan><tspan x="60.5" dy="28">i_block_6</tspan><tspan x="60.5" dy="28">i_block_7</tspan><tspan x="60.5" dy="28">i_block_8</tspan><tspan x="60.5" dy="28">i_block_9</tspan><tspan x="60.5" dy="28">i_block_10</tspan><tspan x="60.5" dy="28">i_block_11</tspan><tspan x="60.5" dy="28">i_block_12</tspan><tspan x="60.5" dy="28">i_block_13</tspan><tspan x="60.5" dy="28">i_block_14</tspan><tspan x="60.5" dy="28">i_type</tspan><tspan x="60.5" dy="28">i_perm</tspan></text>
<text class="t"><tspan x="204.5" y="50">1</tspan><tspan x="204.5" dy="28">1</tspan><tspan x="204.5" dy="28">0</tspan><tspan x="204.5" dy="28">05/10/19 11:51</tspan><tspan x="204.5" dy="28">05/10/19 11:51</tspan><tspan x="204.5" dy="28">05/10/19 11:51</tspan><tspan x="204.5" dy="28">18</tspan><tspan x="204.5" dy="28">-1</tspan><tspan x="204.5" dy="28">-1</tspan><tspan x="204.5" dy="28">-1</tspan><tspan x="204.5" dy="28">-1</tspan><tspan x="204.5" dy="28">-1</tspan><tspan x="204.5" dy="28">-1</tspan><tspan x="204.5" dy="28">-1</tspan><tspan x="204.5" dy="28">-1</tspan><tspan x="204.5" dy="28">-1</tspan><tspan x="204.5" dy="28">-1</tspan><tspan x="204.5" dy="28">-1</tspan><tspan x="204.5" dy="28">-1</tspan><tspan x="204.5" dy="28">-1</tspan><tspan x="204.5" dy="28">-1</tspan><tspan x="204.5" dy="28">0</tspan><tspan x="204.5" dy="28">664</tspan></text></g>

<g id="inode15" transform="translate(2959,1650)"><use href="#ifr"/><text class="h" x="144" y="21">Inode 15</text>
<text class="t"><tspan x="60.5" y="50">i_uid</tspan><tspan x="60.5" dy="28">i_gid</tspan><tspan x="60.5" dy="28">i_size</tspan><tspan x="60.5" dy="28">i_atime</tspan><tspan x="60.5" dy="28">i_ctime</tspan><tspan x="60.5" dy="28">i_mtime</tspan><tspan x="60.5" dy="28">i_block_0</tspan><tspan x="60.5" dy="28">i_block_1</tspan><tspan x="60.5" dy="28">i_block_2</tspan><tspan x="60.5" dy="28">i_block_3</tspan><tspan x="60.5" dy="28">i_block_4</tspan><tspan x="60.5" dy="28">i_block_5</tspan><tspan x="60.5" dy="28">i_block_6</tspan><tspan x="60.5" dy="28">i_block_7</tspan><tspan x="60.5" dy="28">i_block_8</tspan><tspan x="60.5" dy="28">i_block_9</tspan><tspan x="60.5" dy="28">i_block_10</tspan><tspan x="60.5" dy="28">i_block_11</tspan><tspan x="60.5" dy="28">i_block_12</tspan><tspan x="60.5" dy="28">i_block_13</tspan><tspan x="60.5" dy="28">i_block_14</tspan><tspan x="60.5" dy="28">i_type</tspan><tspan x="60.5" dy="28">i_perm</tspan></text>
<text class="t"><tspan x="204.5" y="50">2</tspan><tspan x="204.5" dy="28">1</tspan><tspan x="204.5" dy="28">75</tspan><tspan x="204.5" dy="28">05/10/19 11:00</tspan><tspan x="204.5" dy="28">05/10/19 11:00</tspan><tspan x="204.5" dy="28">05/10/19 11:00</tspan><tspan x="204.5" dy="28">19</tspan><tspan x="204.5" dy="28">20</tspan><tspan x="204.5" dy="28">-1</tspan><tspan x="204.5" dy="28">-1</tspan><tspan x="204.5" dy="28">-1</tspan><tspan x="204.5" dy="28">-1</tspan><tspan x="204.5" dy="28">-1</tspan><tspan x="204.5" dy="28">-1</tspan><tspan x="204.5" dy="28">-1</tspan><tspan x="204.5" dy="28">-1</tspan><tspan x="204.5" dy="28">-1</tspan><tspan x="204.5" dy="28">-1</tspan><tspan x="204.5" dy="28">-1</tspan><tspan x="204.5" dy="28">-1</tspan><tspan x="204.5" dy="28">-1</tspan><tspan x="204.5" dy="28">1</tspan><tspan x="204.5" dy="28">664</tspan></text></g>

<g id="folder0" transform="translate(373,902)"><use href="#fB"/><text class="h" x="101" y="20.5">Folder block 0</text><text class="t" x="53" y="48.5">b_name</text><text class="t" x="154" y="48.5">b_inode</text>
<text class="t" x="53" y="77">.</text><text class="t" x="154" y="77">0</text><text class="t" x="53" y="105.5">..</text><text class="t" x="154" y="105.5">0</text><text class="t" x="53" y="134">users.txt</text><text class="t" x="154" y="134">1</text><text class="t" x="53" y="162.5">bin</text><text class="t" x="154" y="162.5">2</text></g>

<g id="folder4" transform="translate(1216.5,848)"><use href="#fA"/><text class="h" x="97.5" y="20.5">Folder block 4</text><text class="t" x="49.5" y="48.5">b_name</text><text class="t" x="147" y="48.5">b_inode</text>
<text class="t" x="49.5" y="77">.</text><text class="t" x="147" y="77">2</text><text class="t" x="49.5" y="105.5">..</text><text class="t" x="147" y="105.5">0</text><text class="t" x="147" y="134">-1</text><text class="t" x="147" y="162.5">-1</text></g>

<g id="folder5" transform="translate(376.5,2036)"><use href="#fA"/><text class="h" x="97.5" y="20.5">Folder block 5</text><text class="t" x="49.5" y="48.5">b_name</text><text class="t" x="147" y="48.5">b_inode</text>
<text class="t" x="49.5" y="77">dev</text><text class="t" x="147" y="77">3</text><text class="t" x="49.5" y="105.5">home</text><text class="t" x="147" y="105.5">4</text><text class="t" x="49.5" y="134">lib</text><text class="t" x="147" y="134">5</text><text class="t" x="147" y="162.5">-1</text></g>

<g id="folder6" transform="translate(1216.5,1556)"><use href="#fA"/><text class="h" x="97.5" y="20.5">Folder block 6</text><text class="t" x="49.5" y="48.5">b_name</text><text class="t" x="147" y="48.5">b_inode</text>
<text class="t" x="49.5" y="77">.</text><text class="t" x="147" y="77">3</text><text class="t" x="49.5" y="105.5">..</text><text class="t" x="147" y="105.5">0</text><text class="t" x="147" y="134">-1</text><text class="t" x="147" y="162.5">-1</text></g>

<g id="folder7" transform="translate(1200,1988)"><use href="#fC"/><text class="h" x="114" y="20.5">Folder block 7</text><text class="t" x="66" y="48.5">b_name</text><text class="t" x="180" y="48.5">b_inode</text>
<text class="t" x="66" y="77">.</text><text class="t" x="180" y="77">4</text><text class="t" x="66" y="105.5">..</text><text class="t" x="180" y="105.5">0</text><text class="t" x="66" y="134">archivos 19</text><text class="t" x="180" y="134">6</text><text class="t" x="66" y="162.5">user</text><text class="t" x="180" y="162.5">7</text></g>

<g id="folder8" transform="translate(1216.5,2974)"><use href="#fA"/><text class="h" x="97.5" y="20.5">Folder block 8</text><text class="t" x="49.5" y="48.5">b_name</text><text class="t" x="147" y="48.5">b_inode</text>
<text class="t" x="49.5" y="77">.</text><text class="t" x="147" y="77">5</text><text class="t" x="49.5" y="105.5">..</text><text class="t" x="147" y="105.5">0</text><text class="t" x="147" y="134">-1</text><text class="t" x="147" y="162.5">-1</text></g>

<g id="folder9" transform="translate(2058.5,1223)"><use href="#fA"/><text class="h" x="97.5" y="20.5">Folder block 9</text><text class="t" x="49.5" y="48.5">b_name</text><text class="t" x="147" y="48.5">b_inode</text>
<text class="t" x="49.5" y="77">.</text><text class="t" x="147" y="77">6</text><text class="t" x="49.5" y="105.5">..</text><text class="t" x="147" y="105.5">4</text><text class="t" x="147" y="134">-1</text><text class="t" x="147" y="162.5">-1</text></g>

<g id="folder10" transform="translate(2058.5,1933)"><use href="#fA"/><text class="h" x="97.5" y="20.5">Folder block 10</text><text class="t" x="49.5" y="48.5">b_name</text><text class="t" x="147" y="48.5">b_inode</text>
<text class="t" x="49.5" y="77">.</text><text class="t" x="147" y="77">7</text><text class="t" x="49.5" y="105.5">..</text><text class="t" x="147" y="105.5">4</text><text class="t" x="49.5" y="134">docs</text><text class="t" x="147" y="134">8</text><text class="t" x="147" y="162.5">-1</text></g>

<g id="folder11" transform="translate(2686,1831)"><use href="#fB"/><text class="h" x="101" y="20.5">Folder block 11</text><text class="t" x="53" y="48.5">b_name</text><text class="t" x="154" y="48.5">b_inode</text>
<text class="t" x="53" y="77">.</text><text class="t" x="154" y="77">8</text><text class="t" x="53" y="105.5">..</text><text class="t" x="154" y="105.5">7</text><text class="t" x="53" y="134">usac</text><text class="t" x="154" y="134">9</text><text class="t" x="53" y="162.5">Tarea.txt</text><text class="t" x="154" y="162.5">15</text></g>

<g id="folder12" transform="translate(3607.5,1066)"><use href="#fA"/><text class="h" x="97.5" y="20.5">Folder block 12</text><text class="t" x="49.5" y="48.5">b_name</text><text class="t" x="147" y="48.5">b_inode</text>
<text class="t" x="49.5" y="77">.</text><text class="t" x="147" y="77">9</text><text class="t" x="49.5" y="105.5">..</text><text class="t" x="147" y="105.5">8</text><text class="t" x="147" y="134">-1</text><text class="t" x="147" y="162.5">-1</text></g>

<g id="folder13" transform="translate(1213,2423)"><use href="#fB"/><text class="h" x="101" y="20.5">Folder block 13</text><text class="t" x="53" y="48.5">b_name</text><text class="t" x="154" y="48.5">b_inode</text>
<text class="t" x="53" y="77">carpeta1</text><text class="t" x="154" y="77">10</text><text class="t" x="154" y="105.5">-1</text><text class="t" x="154" y="134">-1</text><text class="t" x="154" y="162.5">-1</text></g>

<g id="folder14" transform="translate(2055,2644)"><use href="#fB"/><text class="h" x="101" y="20.5">Folder block 14</text><text class="t" x="53" y="48.5">b_name</text><text class="t" x="154" y="48.5">b_inode</text>
<text class="t" x="53" y="77">.</text><text class="t" x="154" y="77">10</text><text class="t" x="53" y="105.5">..</text><text class="t" x="154" y="105.5">4</text><text class="t" x="53" y="134">carpeta2</text><text class="t" x="154" y="134">11</text><text class="t" x="154" y="162.5">-1</text></g>

<g id="folder15" transform="translate(2687,2561)"><use href="#fB"/><text class="h" x="101" y="20.5">Folder block 15</text><text class="t" x="53" y="48.5">b_name</text><text class="t" x="154" y="48.5">b_inode</text>
<text class="t" x="53" y="77">.</text><text class="t" x="154" y="77">11</text><text class="t" x="53" y="105.5">..</text><text class="t" x="154" y="105.5">10</text><text class="t" x="53" y="134">carpeta3</text><text class="t" x="154" y="134">12</text><text class="t" x="154" y="162.5">-1</text></g>

<g id="folder16" transform="translate(3604,2487)"><use href="#fB"/><text class="h" x="101" y="20.5">Folder block 16</text><text class="t" x="53" y="48.5">b_name</text><text class="t" x="154" y="48.5">b_inode</text>
<text class="t" x="53" y="77">.</text><text class="t" x="154" y="77">12</text><text class="t" x="53" y="105.5">..</text><text class="t" x="154" y="105.5">11</text><text class="t" x="53" y="134">carpeta4</text><text class="t" x="154" y="134">13</text><text class="t" x="154" y="162.5">-1</text></g>

<g id="folder17" transform="translate(4523,2400)"><use href="#fB"/><text class="h" x="101" y="20.5">Folder block 17</text><text class="t" x="53" y="48.5">b_name</text><text class="t" x="154" y="48.5">b_inode</text>
<text class="t" x="53" y="77">.</text><text class="t" x="154" y="77">13</text><text class="t" x="53" y="105.5">..</text><text class="t" x="154" y="105.5">12</text><text class="t" x="53" y="134">carpeta5</text><text class="t" x="154" y="134">14</text><text class="t" x="154" y="162.5">-1</text></g>

<g id="folder18" transform="translate(5152,2316)"><use href="#fA"/><text class="h" x="97.5" y="20.5">Folder block 18</text><text class="t" x="49.5" y="48.5">b_name</text><text class="t" x="147" y="48.5">b_inode</text>
<text class="t" x="49.5" y="77">.</text><text class="t" x="147" y="77">14</text><text class="t" x="49.5" y="105.5">..</text><text class="t" x="147" y="105.5">13</text><text class="t" x="147" y="134">-1</text><text class="t" x="147" y="162.5">-1</text></g>

<g id="file1" transform="translate(1005,127)"><rect width="620" height="58" fill="#fff"/><rect width="620" height="29" fill="#F4A460"/><rect class="bo" width="620" height="58"/><text class="h" x="310" y="21">File block 1</text><text class="t" x="310" y="50">1,G,root1,U,root,root,1232,G,usuarios3,G,daemon4,G,adm0,G,</text></g>

<g id="file2" transform="translate(1005,220)"><rect width="620" height="58" fill="#fff"/><rect width="620" height="29" fill="#F4A460"/><rect class="bo" width="620" height="58"/><text class="h" x="310" y="21">File block 2</text><text class="t" x="310" y="50">mail6,G,fax0,G,news2,U,root,raulx,password3,U,usuarios,user</text></g>

<g id="file3" transform="translate(1058,313)"><rect width="513" height="58" fill="#fff"/><rect width="513" height="29" fill="#F4A460"/><rect class="bo" width="513" height="58"/><text class="h" x="256.5" y="21">File block 3</text><text class="t" x="256.5" y="50">1,abc0,U,usuarios,user2,abc5,U,usuarios,user3,abc</text></g>

<g id="file19" transform="translate(3315,1798)"><rect width="780" height="58" fill="#fff"/><rect width="780" height="29" fill="#F4A460"/><rect class="bo" width="780" height="58"/><text class="h" x="390" y="21">File block 19</text><text class="t" x="390" y="50">012345678901234567890123456789012345678901234567890123456789012</text></g>

<g id="file20" transform="translate(3621,1891)"><rect width="168" height="58" fill="#fff"/><rect width="168" height="29" fill="#F4A460"/><rect class="bo" width="168" height="58"/><text class="h" x="84" y="21">File block 20</text><text class="t" x="84" y="50">345678901234</text></g>

</g>
</svg>
